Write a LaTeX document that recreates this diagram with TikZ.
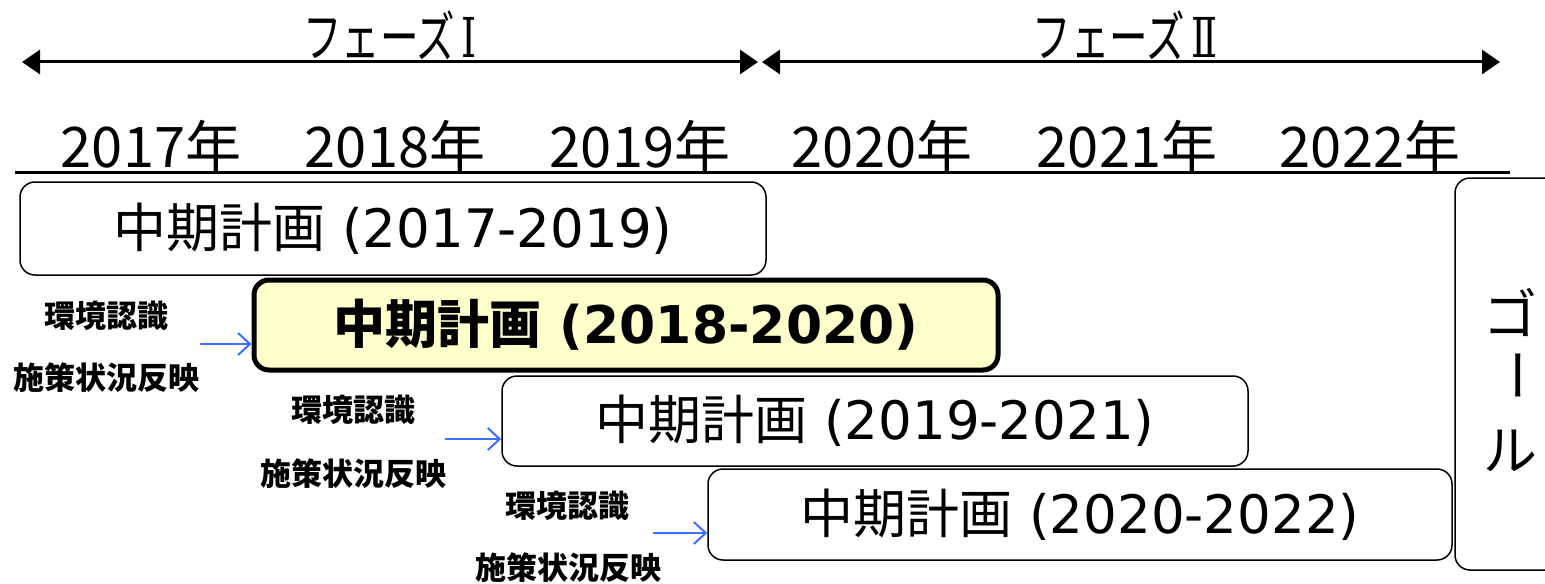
\documentclass[tikz,border=0pt]{standalone}
\usepackage{fontspec}
\setmainfont{DejaVu Sans}
\newfontfamily\jp{Noto Sans CJK JP}
\newfontfamily\romnum{DejaVu Serif}
\usetikzlibrary{arrows.meta}
\definecolor{arrblue}{RGB}{60,110,255}
\definecolor{hilite}{RGB}{255,255,204}
\tikzset{
  planbox/.style={draw=black, line width=0.75pt, rounded corners=7.5pt, inner sep=0pt, fill=white,
    font=\fontsize{26.5pt}{30pt}\selectfont},
  hibox/.style={planbox, line width=2.5pt, fill=hilite, font=\fontsize{26pt}{30pt}\selectfont\bfseries},
  phasearrow/.style={line width=1.5pt, {Triangle[length=9pt,width=12pt]}-{Triangle[length=9pt,width=12pt]}},
  bluearrow/.style={draw=arrblue, line width=1pt, -{Straight Barb[length=6pt,width=11pt]}},
  phaselbl/.style={inner sep=0pt, font=\jp\fontsize{27.5pt}{30pt}\selectfont},
  yearlbl/.style={inner sep=0pt, font=\jp\fontsize{28pt}{30pt}\selectfont},
  sidelbl/.style={inner sep=0pt, font=\jp\bfseries\fontsize{15.5pt}{18pt}\selectfont},
  goallbl/.style={inner sep=0pt, font=\jp\fontsize{27pt}{30pt}\selectfont}
}
\newcommand\planlabel[1]{{\jp 中期計画} (#1)}
\begin{document}
\begin{tikzpicture}[x=0.5pt,y=-0.5pt]
\useasboundingbox (0,0) rectangle (1545,583);
\clip (0,0) rectangle (1545,583);
% phase arrows
\coordinate (ph1a) at (22,62);
\coordinate (ph1b) at (758,62);
\coordinate (ph2a) at (762,62);
\coordinate (ph2b) at (1500,62);
\draw[phasearrow] (ph1a) -- (ph1b);
\draw[phasearrow] (ph2a) -- (ph2b);
\node[phaselbl] (phase1) at (390,35) {\scalebox{0.7}[1]{フェーズ{\romnum\,Ⅰ}}};
\node[phaselbl] (phase2) at (1125,35) {\scalebox{0.7}[1]{フェーズ{\romnum\,Ⅱ}}};
% years
\node[yearlbl] (y2017) at (151,146) {2017年};
\node[yearlbl] (y2018) at (395,146) {2018年};
\node[yearlbl] (y2019) at (640,146) {2019年};
\node[yearlbl] (y2020) at (882,146) {2020年};
\node[yearlbl] (y2021) at (1127,146) {2021年};
\node[yearlbl] (y2022) at (1370,146) {2022年};
\coordinate (yl1) at (15,172);
\coordinate (yl2) at (1510,172);
\draw[line width=1.5pt] (yl1) -- (yl2);
% plan boxes
\node[planbox, minimum width=373pt, minimum height=46.5pt] (p1) at (393,228.5) {\planlabel{2017-2019}};
\node[hibox, minimum width=372pt, minimum height=45pt] (p2) at (626,325) {\planlabel{2018-2020}};
\node[planbox, minimum width=373pt, minimum height=45pt] (p3) at (875,421) {\planlabel{2019-2021}};
\node[planbox, minimum width=372pt, minimum height=45.5pt] (p4) at (1080,514.5) {\planlabel{2020-2022}};
% goal
\node[planbox, minimum width=55pt, minimum height=196pt] (goal) at (1510,374) {};
\node[goallbl] (g1) at (1510,312) {ゴ};
\node[goallbl] (g2) at (1509,375) {\rotatebox{-90}{ー}};
\node[goallbl] (g3) at (1510,451) {ル};
% side labels and arrows
\node[sidelbl] (k1) at (106,316) {環境認識};
\node[sidelbl] (s1) at (106,378) {施策状況反映};
\coordinate (a1) at (200,344);
\draw[bluearrow] (a1) -- (a1 -| p2.west);
\node[sidelbl] (k2) at (353,410) {環境認識};
\node[sidelbl] (s2) at (353,474) {施策状況反映};
\coordinate (a2) at (445,439);
\draw[bluearrow] (a2) -- (a2 -| p3.west);
\node[sidelbl] (k3) at (567,506) {環境認識};
\node[sidelbl] (s3) at (568,568) {施策状況反映};
\coordinate (a3) at (653,533);
\draw[bluearrow] (a3) -- (a3 -| p4.west);
\end{tikzpicture}
\end{document}
